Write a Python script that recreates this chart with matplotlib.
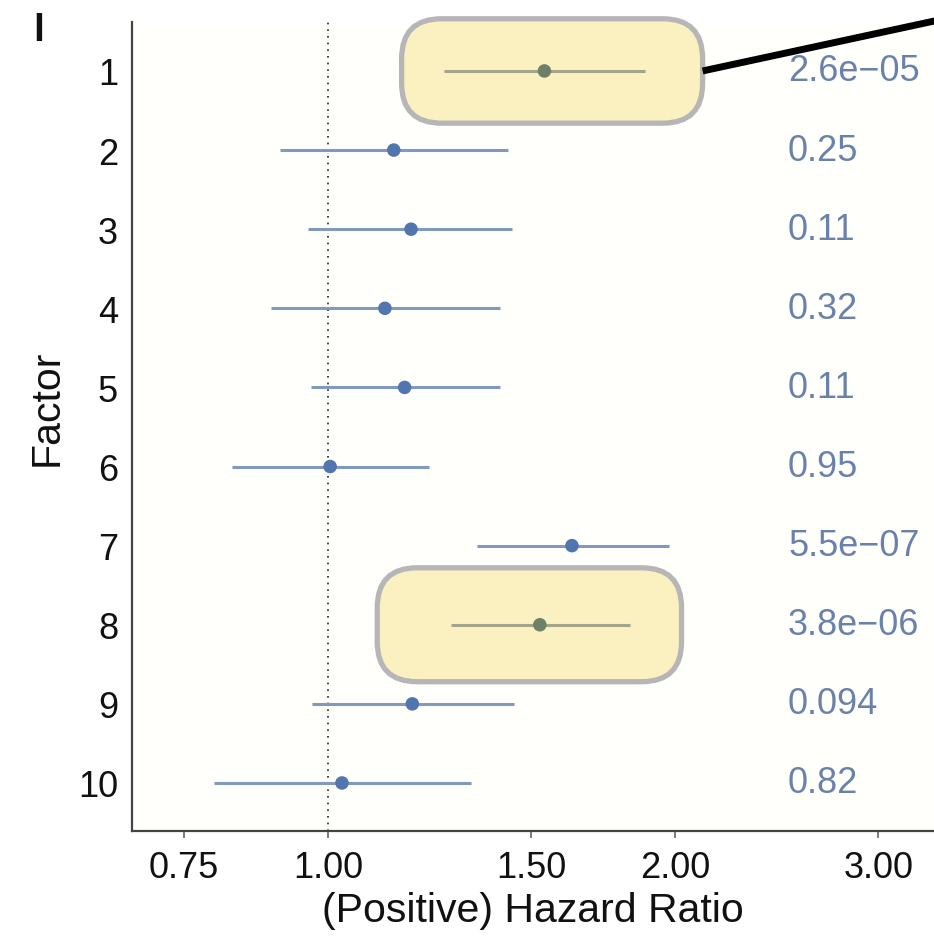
import numpy as np
import matplotlib
matplotlib.use("Agg")
import matplotlib.pyplot as plt
from matplotlib.patches import FancyBboxPatch
from matplotlib.transforms import IdentityTransform, blended_transform_factory

plt.rcParams['font.family'] = ['Liberation Sans', 'DejaVu Sans']

# Hazard ratios with 95% confidence intervals per factor
factors = ["1", "2", "3", "4", "5", "6", "7", "8", "9", "10"]
hr = [1.54, 1.14, 1.18, 1.12, 1.165, 1.004, 1.627, 1.526, 1.183, 1.028]
ci_low = [1.26, 0.908, 0.961, 0.892, 0.966, 0.825, 1.345, 1.277, 0.968, 0.796]
ci_high = [1.884, 1.431, 1.443, 1.409, 1.409, 1.224, 1.973, 1.828, 1.449, 1.329]
p_values = ["2.6e\u221205", "0.25", "0.11", "0.32", "0.11", "0.95",
            "5.5e\u221207", "3.8e\u221206", "0.094", "0.82"]
x_ticks = [0.75, 1.00, 1.50, 2.00, 3.00]
x_tick_labels = ["0.75", "1.00", "1.50", "2.00", "3.00"]

# Highlighted rows and their box extents (hazard-ratio units, row half-height)
highlight_rows = [1, 8]
highlight_x = [(1.158, 2.112), (1.103, 2.025)]
highlight_half = [0.66, 0.72]

W, H = 934, 937
fig = plt.figure(figsize=(W / 100, H / 100), dpi=100)
fig.patch.set_facecolor("white")
ax = fig.add_axes([132 / W, 1 - 832 / H, 1 - 132 / W, (832 - 23) / H])
ax.set_facecolor("#fffffb")

rows = np.arange(1, len(factors) + 1)
point_col = "#5175ae"
line_col = "#8099bd"
hl_point_col = "#6f8069"
hl_line_col = "#a3a58c"

pt_colors = [hl_point_col if r in highlight_rows else point_col for r in rows]
ln_colors = [hl_line_col if r in highlight_rows else line_col for r in rows]

ax.hlines(rows, ci_low, ci_high, colors=ln_colors, lw=2.2, zorder=3)
ax.scatter(hr, rows, s=95, c=pt_colors, edgecolors="none", zorder=4)
ax.axvline(1.0, color="#222222", lw=1.2, ls=(0, (1, 3)), zorder=1)

ax.set_xscale("log")
ax.set_xlim(0.676, 3.352)
ax.set_ylim(10.607, 0.381)
ax.set_xticks(x_ticks)
ax.set_xticklabels(x_tick_labels)
ax.xaxis.set_minor_locator(matplotlib.ticker.NullLocator())
ax.set_yticks(rows)
ax.set_yticklabels(factors)
ax.tick_params(axis="x", length=5, width=1.2, color="#666666", labelsize=26,
               pad=9, labelcolor="#111111")
ax.tick_params(axis="y", length=0, labelsize=26, pad=10, labelcolor="#111111")

for side in ["top", "right"]:
    ax.spines[side].set_visible(False)
for side in ["left", "bottom"]:
    ax.spines[side].set_color("#444444")
    ax.spines[side].set_linewidth(1.6)

ax.set_xlabel("(Positive) Hazard Ratio", fontsize=29.5, color="#111111")
ax.set_ylabel("Factor", fontsize=29.5, color="#111111")
ax.xaxis.set_label_coords(0.5, (832 - 892) / (832 - 23))
ax.yaxis.set_label_coords((66 - 132) / (W - 132), (832 - 408) / (832 - 23))

# p-values in a text column on the right
trans = blended_transform_factory(ax.transAxes, ax.transData)
for r, p in zip(rows, p_values):
    ax.text((788 - 132) / (W - 132), r, p, transform=trans, ha="left",
            va="center", fontsize=26, color="#6a82ab")

# Rounded highlight boxes drawn in pixel space so the corners stay circular
fig.canvas.draw()
boxes = []
for r, (x0, x1), hh in zip(highlight_rows, highlight_x, highlight_half):
    (px0, py0) = ax.transData.transform((x0, r + hh))
    (px1, py1) = ax.transData.transform((x1, r - hh))
    rad = 40
    box = FancyBboxPatch((px0 + rad, py0 + rad), (px1 - px0) - 2 * rad,
                         (py1 - py0) - 2 * rad,
                         boxstyle=f"round,pad={rad}",
                         transform=IdentityTransform(),
                         facecolor="#faf0c0", edgecolor="#b6b6b6", lw=3.8,
                         zorder=2)
    box.set_clip_on(False)
    ax.add_artist(box)
    boxes.append((px0, py0, px1, py1))

# Pointer line leading away from the first highlighted row
px0, py0, px1, py1 = boxes[0]
ymid = ax.transData.transform((1.0, highlight_rows[0]))[1]
fig.add_artist(plt.Line2D([px1, W + 5], [ymid, H - 21], color="black", lw=5,
                          transform=IdentityTransform(), zorder=7,
                          solid_capstyle="butt"))

# Panel mark in the upper-left corner
fig.text(39 / W, 1 - 31 / H, "l", fontsize=28, fontweight="bold",
         ha="center", va="center", color="#111111")

fig.savefig("out.png", dpi=100)
